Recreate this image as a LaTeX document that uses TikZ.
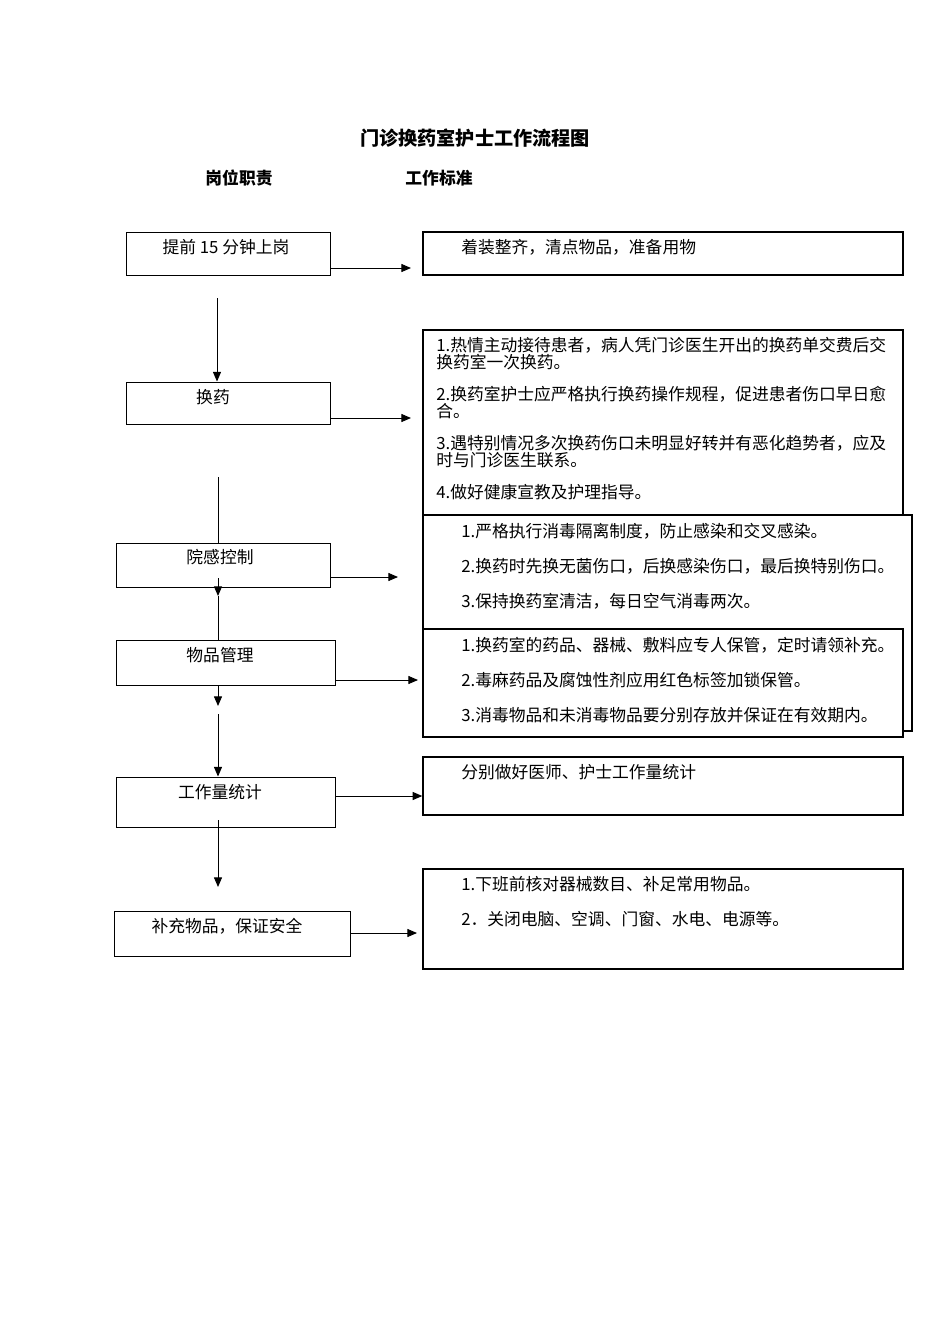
\documentclass[tikz,border=0pt]{standalone}
\usepackage{fontspec}
\setmainfont{Noto Sans CJK SC}
\usetikzlibrary{arrows.meta,fit}

\begin{document}
\begin{tikzpicture}[x=0.6263pt, y=-0.6263pt,
		duty/.style={draw, line width=0.6pt, inner sep=0pt},
		norm/.style={draw, line width=0.9pt, fill=white, inner sep=0pt},
		txt/.style={inner sep=0pt, font=\fontsize{10.5pt}{10.65pt}\selectfont},
		arr/.style={line width=0.6pt, -{Triangle[length=6pt,width=5pt]}},
		ln/.style={line width=0.6pt}]
		\useasboundingbox (0,0) rectangle (950,1344);
		% heading
		\node[anchor=base, inner sep=0pt, font=\fontsize{12pt}{14pt}\selectfont\bfseries] (title) at (475,145) {门诊换药室护士工作流程图};
		\node[anchor=base, inner sep=0pt, font=\fontsize{10.5pt}{12pt}\selectfont\bfseries] (hduty) at (239,184) {岗位职责};
		\node[anchor=base, inner sep=0pt, font=\fontsize{10.5pt}{12pt}\selectfont\bfseries] (hnorm) at (439,184) {工作标准};
		% left column: duties
		\node[duty, fit={(126,232) (330,275)}] (b1) {};
		\node[duty, fit={(126,382) (330,424)}] (b2) {};
		\node[duty, fit={(116,543) (330,587)}] (b3) {};
		\node[duty, fit={(116,640) (335,685)}] (b4) {};
		\node[duty, fit={(116,777) (335,827)}] (b5) {};
		\node[duty, fit={(114,911) (350,956)}] (b6) {};
		\node[txt, anchor=base] (t1) at (226,253) {提前 15 分钟上岗};
		\node[txt, anchor=base] (t2) at (213,403) {换药};
		\node[txt, anchor=base] (t3) at (220,563) {院感控制};
		\node[txt, anchor=base] (t4) at (220,661) {物品管理};
		\node[txt, anchor=base] (t5) at (220,798) {工作量统计};
		\node[txt, anchor=base] (t6) at (227,932) {补充物品，保证安全};
		% right column: standards
		\node[norm, fit={(423,232) (903,275)}] (s1) {};
		\node[norm, fit={(423,330) (903,515)}] (s2) {};
		\node[norm, fit={(423,515) (912,731)}] (s3) {};
		\node[norm, fit={(423,757) (903,815)}] (s5) {};
		\node[norm, fit={(423,869) (903,969)}] (s6) {};
		\node[txt, anchor=base west] (r1) at (461,253) {着装整齐，清点物品，准备用物};
		\node[txt, anchor=base west, text width=284pt, align=left] (r2) at (436,351) {1.热情主动接待患者，病人凭门诊医生开出的换药单交费后交\\换药室一次换药。\\[9.4pt]
			2.换药室护士应严格执行换药操作规程，促进患者伤口早日愈\\合。\\[9.4pt]
			3.遇特别情况多次换药伤口未明显好转并有恶化趋势者，应及\\时与门诊医生联系。\\[9.4pt]
			4.做好健康宣教及护理指导。};
		\node[txt, anchor=base west, text width=290pt, align=left] (r3) at (461,537) {1.严格执行消毒隔离制度，防止感染和交叉感染。\\[11.3pt]
			2.换药时先换无菌伤口，后换感染伤口，最后换特别伤口。\\[11.3pt]
			3.保持换药室清洁，每日空气消毒两次。};
		\node[norm, fit={(423,629) (903,737)}] (s4) {};
		\node[txt, anchor=base west, text width=280pt, align=left] (r4) at (461,651) {1.换药室的药品、器械、敷料应专人保管，定时请领补充。\\[11.3pt]
			2.毒麻药品及腐蚀性剂应用红色标签加锁保管。\\[11.3pt]
			3.消毒物品和未消毒物品要分别存放并保证在有效期内。};
		\node[txt, anchor=base west] (r5) at (461,778) {分别做好医师、护士工作量统计};
		\node[txt, anchor=base west, text width=280pt, align=left] (r6) at (461,890) {1.下班前核对器械数目、补足常用物品。\\[11.3pt]
			2．关闭电脑、空调、门窗、水电、电源等。};
		% arrows to the standards
		\coordinate (h1) at (411,268);
		\coordinate (h2) at (411,418);
		\coordinate (h3) at (398,577);
		\coordinate (h4) at (418,680);
		\coordinate (h5) at (423,796);
		\coordinate (h6) at (417,933);
		\draw[arr] (b1.east |- h1) -- (h1);
		\draw[arr] (b2.east |- h2) -- (h2);
		\draw[arr] (b3.east |- h3) -- (h3);
		\draw[arr] (b4.east |- h4) -- (h4);
		\draw[arr] (b5.east |- h5) -- (s5.west |- h5);
		\draw[arr] (b6.east |- h6) -- (h6);
		% flow down the duties
		\coordinate (v1) at (217,298);
		\coordinate (v2) at (218,477);
		\coordinate (v3) at (218,578);
		\coordinate (v4) at (218,596);
		\coordinate (v5) at (218,706);
		\coordinate (v6) at (218,714);
		\coordinate (v7) at (218,820);
		\coordinate (v8) at (218,887);
		\draw[arr] (v1) -- (v1 |- b2.north);
		\draw[ln] (v2) -- (v2 |- b3.north);
		\draw[arr] (v3) -- (v4);
		\draw[ln] (v4) -- (v4 |- b4.north);
		\draw[arr] (v5 |- b4.south) -- (v5);
		\draw[arr] (v6) -- (v6 |- b5.north);
		\draw[arr] (v7) -- (v8);
	\end{tikzpicture}
\end{document}
